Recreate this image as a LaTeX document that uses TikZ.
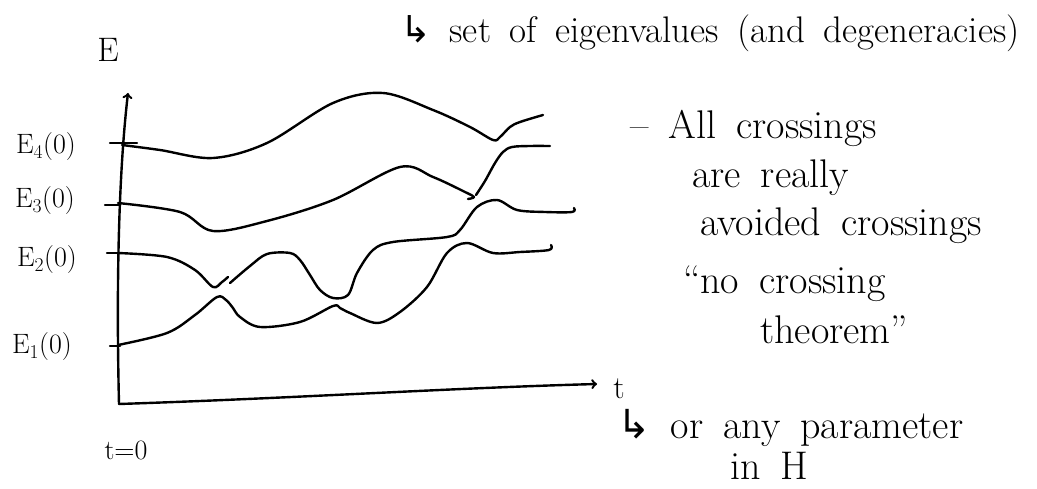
\documentclass[tikz,border=0pt]{standalone}
\usepackage{fontspec}
\newfontfamily\arrowfont{DejaVu Sans}
\newcommand{\widegaps}{\spaceskip=0.5em plus 0.1em\relax}
\begin{document}
\begin{tikzpicture}[x=1pt, y=-1pt, line cap=round, line join=round,
  level/.style={line width=2.4pt, black},
  scrawl/.style={font=\fontsize{40}{46}\selectfont\widegaps, inner sep=0pt},
  tag/.style={font=\fontsize{28}{32}\selectfont, inner sep=0pt}]
% Fix the canvas
\useasboundingbox (0,0) rectangle (1037,489);
% Axes
\coordinate (O) at (119,404);
\coordinate (Etop) at (128,93);
\coordinate (tend) at (597,384);
\draw[level, ->] (O) .. controls (116,280) and (119,170) .. (Etop);
\draw[level, ->] (O) .. controls (300,398) and (450,388) .. (tend);
\node[tag, font=\fontsize{34}{40}\selectfont] (Elab) at (108,50) {E};
\node[tag, font=\fontsize{32}{38}\selectfont] (tlab) at (619,389) {t};
\node[tag] (t0) at (126,450) {t=0};
% Ticks and starting values
\draw[level] (110,143) -- (137,143);
\draw[level] (105,205) -- (120,205);
\draw[level] (107,253) -- (120,253);
\draw[level] (110,346) -- (120,346);
\node[tag] (E4) at (46,147) {E\textsubscript{4}(0)};
\node[tag] (E3) at (45,201) {E\textsubscript{3}(0)};
\node[tag] (E2) at (47,260) {E\textsubscript{2}(0)};
\node[tag] (E1) at (42,347) {E\textsubscript{1}(0)};
% Top level
\draw[level] plot[smooth, tension=0.55] coordinates {(122,145) (160,150) (213,158) (267,143) (333,103) (383,93) (433,110) (470,127) (493,140) (500,137) (510,127) (520,122) (543,115)};
% Second level, turning up at the right
\draw[level] plot[smooth, tension=0.55] coordinates {(118,203) (180,212) (213,231) (267,221) (333,200) (400,167) (433,177) (465,192) (474,197) (468,199)};
\draw[level] plot[smooth, tension=0.55] coordinates {(476,195) (485,181) (495,163) (503,152) (512,147) (530,146) (550,146)};
% Third level
\draw[level] plot[smooth, tension=0.55] coordinates {(118,253) (167,257) (195,270) (213,287) (222,282) (228,277)};
\draw[level] plot[smooth, tension=0.55] coordinates {(230,283) (250,266) (267,254) (290,253) (300,260) (310,275) (320,290) (333,298) (348,295) (357,273) (373,250) (393,242) (447,237) (460,230) (477,207) (497,200) (517,210) (545,212) (572,212) (574,208)};
% Lowest level
\draw[level] plot[smooth, tension=0.55] coordinates {(118,345) (167,333) (195,315) (217,297) (226,300) (233,308) (240,317) (260,327) (300,322) (333,306) (340,308) (350,313) (377,323) (400,312) (427,287) (447,253) (467,243) (493,253) (520,252) (549,250) (551,245)};
% Notes
\node[scrawl, font=\fontsize{37}{44}\selectfont\widegaps, anchor=west] (eig) at (400,33) {{\arrowfont ↳} set of eigenvalues (and degeneracies)};
\node[scrawl, anchor=west] (n1) at (630,128) {– All crossings};
\node[scrawl, anchor=west] (n2) at (692,178) {are really};
\node[scrawl, anchor=west] (n3) at (700,226) {avoided crossings};
\node[scrawl, anchor=west] (n4) at (683,284) {``no crossing};
\node[scrawl, anchor=west] (n5) at (760,330) {theorem''};
\node[scrawl, anchor=west] (par) at (617,428) {{\arrowfont ↳} or any parameter};
\node[scrawl, anchor=west] (inH) at (730,466) {in H};
\end{tikzpicture}
\end{document}
